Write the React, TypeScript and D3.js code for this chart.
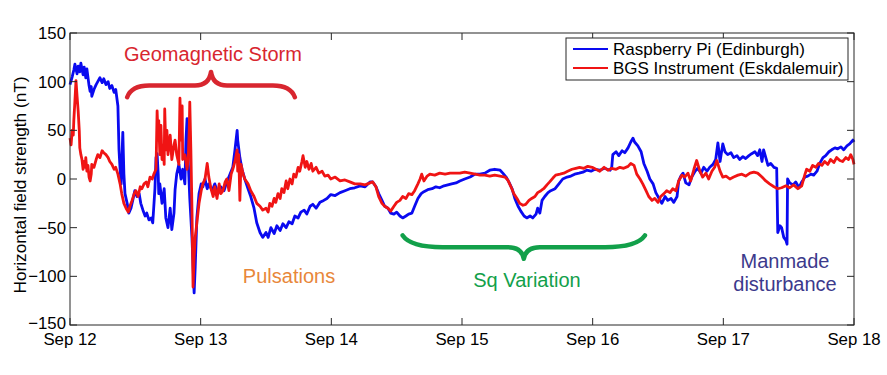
import React from 'react';
import * as d3 from 'd3';

// ---------- DATA ----------
const startUtc = Date.UTC(2014, 8, 12);
const endUtc = Date.UTC(2014, 8, 18);
const yTickValues = [-150, -100, -50, 0, 50, 100, 150];

// Raspberry Pi (Edinburgh): hours since Sep 12 00:00 and horizontal field (nT)
const blueHours = [
  0, 0.4, 0.7, 0.9, 1.3, 1.5, 1.8, 2.0, 2.4, 2.6,
  2.9, 3.1, 3.5, 3.7, 3.9, 4.0, 4.4, 4.8, 5.1, 5.5,
  5.9, 6.2, 6.6, 7.0, 7.3, 7.7, 8.1, 8.4, 8.8, 9.0,
  9.2, 9.4, 9.5, 9.7, 9.9, 10.1, 10.5, 10.8, 11.2, 11.6,
  11.9, 12.3, 12.7, 13.0, 13.4, 13.8, 14.1, 14.5, 14.9, 15.2,
  15.6, 15.8, 16.0, 16.2, 16.3, 16.5, 16.9, 17.3, 17.6, 18.0,
  18.4, 18.7, 19.1, 19.3, 19.6, 20.0, 20.4, 20.7, 21.1, 21.3,
  21.5, 21.7, 22.0, 22.4, 22.8, 23.0, 23.3, 23.7, 24.1, 24.4,
  24.8, 25.2, 25.5, 26.1, 26.6, 27.2, 27.7, 28.3, 28.8, 29.4,
  29.9, 30.3, 30.7, 30.8, 31.2, 31.6, 32.1, 32.7, 33.2, 33.8,
  34.3, 34.9, 35.4, 36.0, 36.4, 36.9, 37.5, 38.0, 38.6, 39.1,
  39.7, 40.2, 40.8, 41.3, 41.9, 42.4, 43.0, 43.5, 44.1, 44.6,
  45.2, 45.9, 46.6, 47.2, 47.9, 48.7, 49.6, 50.5, 51.4, 52.3,
  53.3, 54.2, 55.1, 55.6, 56.2, 56.7, 57.3, 57.8, 58.4, 58.9,
  59.5, 60.0, 60.6, 61.1, 61.7, 62.2, 62.8, 63.3, 63.9, 64.5,
  65.0, 65.7, 66.5, 67.2, 67.9, 68.7, 69.4, 70.1, 70.9, 71.6,
  72.5, 73.5, 74.4, 75.3, 76.2, 77.1, 78.0, 79.0, 79.5, 80.1,
  80.6, 81.2, 81.7, 82.3, 82.8, 83.4, 83.9, 84.5, 85.0, 85.6,
  85.9, 86.3, 86.7, 87.2, 87.8, 88.3, 89.1, 89.8, 90.5, 91.3,
  92.0, 92.7, 93.5, 94.2, 94.9, 95.7, 96.4, 97.3, 98.2, 99.2,
  99.5, 99.7, 100.3, 100.8, 101.4, 101.9, 102.5, 103.0, 103.4, 103.7,
  104.3, 104.9, 105.4, 106.0, 106.5, 107.1, 107.6, 108.2, 108.7, 109.3,
  109.8, 110.4, 110.9, 111.5, 111.8, 112.2, 112.6, 113.1, 113.7, 114.2,
  114.8, 115.3, 115.9, 116.4, 117.0, 117.5, 118.1, 118.6, 119.0, 119.4,
  119.9, 120.3, 120.8, 121.4, 121.9, 122.5, 123.0, 123.6, 124.1, 124.7,
  125.2, 125.8, 126.3, 126.7, 127.1, 127.4, 127.8, 128.2, 128.7, 129.3,
  129.8, 130.0, 130.4, 130.7, 131.1, 131.5, 131.7, 131.8, 132.2, 132.8,
  133.3, 133.9, 134.4, 135.0, 135.5, 136.1, 136.6, 137.2, 137.7, 138.3,
  138.8, 139.4, 139.9, 140.5, 141.0, 141.6, 142.1, 142.7, 143.2, 143.8,
  144.0,
];
const blueNT = [
  97, 105, 112, 118, 108, 116, 110, 119, 107, 115,
  104, 113, 96, 90, 95, 85, 92, 97, 100, 104,
  99, 103, 97, 100, 93, 96, 89, 92, 75, 30,
  10, -5, 15, 48, 5, -15, -25, -35, -30, -20,
  -12, -18, -15, -25, -32, -38, -35, -42, -40, -45,
  -10, 22, 26, 5, -15, -5, -25, -10, -40, -50,
  -30, -52, -35, -11, 5, 15, 0, 10, -5, 40,
  62, 20, -20, -60, -117, -90, -40, -15, -5, -8,
  0, -10, -5, -12, -5, -15, -8, -12, -3, 5,
  12, 30, 50, 40, 22, 10, 0, -10, -18, -30,
  -45, -55, -60, -55, -60, -50, -56, -48, -53, -46,
  -50, -44, -46, -38, -40, -34, -32, -36, -28, -26,
  -30, -24, -22, -20, -16, -17, -14, -12, -10, -9,
  -7, -8, -3, -3, -8, -15, -22, -28, -30, -35,
  -36, -34, -38, -40, -38, -36, -35, -28, -20, -15,
  -13, -11, -10, -8, -9, -7, -6, -5, -4, -2,
  0, 2, 5, 5, 6, 9, 10, 9, 6, 2,
  -3, -10, -20, -28, -33, -38, -40, -38, -40, -36,
  -30, -35, -22, -18, -14, -12, -10, -5, 0, 2,
  3, 5, 6, 7, 9, 8, 10, 9, 11, 9,
  12, 25, 28, 24, 29, 27, 32, 38, 42, 38,
  34, 28, 16, 8, 0, -5, -14, -20, -25, -18,
  -22, -20, -24, -18, -2, 3, 6, -4, -6, 2,
  8, 11, 6, 12, 8, 12, 15, 20, 37, 18,
  36, 28, 25, 27, 22, 24, 20, 23, 21, 24,
  26, 28, 24, 30, 18, 30, 22, 14, 16, 12,
  11, -55, -48, -50, -60, -63, -67, 0, -4, -6,
  -3, -9, -3, 2, 3, 5, 4, 8, 16, 22,
  24, 28, 30, 32, 31, 33, 30, 34, 36, 40,
  38,
];

// BGS Instrument (Eskdalemuir)
const redHours = [
  0, 0.2, 0.4, 0.6, 0.7, 0.9, 1.1, 1.3, 1.5, 1.7,
  1.8, 2.0, 2.2, 2.4, 2.6, 2.8, 2.9, 3.1, 3.3, 3.5,
  3.7, 3.9, 4.0, 4.4, 4.8, 5.1, 5.5, 5.9, 6.2, 6.6,
  7.0, 7.3, 7.7, 8.1, 8.4, 8.8, 9.2, 9.5, 9.9, 10.3,
  10.7, 11.0, 11.4, 11.8, 12.1, 12.5, 12.9, 13.2, 13.6, 14.0,
  14.3, 14.7, 15.1, 15.4, 15.8, 16.0, 16.2, 16.3, 16.5, 16.7,
  16.9, 17.1, 17.3, 17.4, 17.6, 17.8, 18.0, 18.4, 18.7, 19.1,
  19.3, 19.6, 20.0, 20.2, 20.4, 20.6, 20.7, 21.1, 21.5, 21.7,
  21.9, 22.0, 22.2, 22.4, 22.6, 22.8, 23.0, 23.3, 23.7, 24.1,
  24.4, 24.8, 25.2, 25.5, 25.9, 26.3, 26.6, 27.0, 27.4, 27.7,
  28.1, 28.5, 28.8, 29.2, 29.6, 29.9, 30.3, 30.7, 30.8, 31.0,
  31.2, 31.4, 31.8, 32.1, 32.7, 33.2, 33.8, 34.3, 34.9, 35.4,
  36.0, 36.4, 36.7, 37.1, 37.5, 37.8, 38.2, 38.6, 38.9, 39.3,
  39.7, 40.0, 40.4, 40.8, 41.1, 41.5, 41.9, 42.2, 42.6, 42.8,
  43.2, 43.5, 43.9, 44.3, 44.6, 45.2, 45.7, 46.3, 46.8, 47.4,
  47.9, 48.7, 49.6, 50.5, 51.4, 52.3, 53.3, 54.2, 55.1, 55.6,
  56.2, 56.7, 57.3, 57.8, 58.4, 58.9, 59.5, 60.0, 60.6, 61.1,
  61.7, 62.2, 62.8, 63.3, 63.9, 64.3, 64.6, 65.0, 65.6, 66.1,
  67.0, 67.9, 68.9, 69.8, 70.7, 71.6, 72.5, 73.5, 74.4, 75.3,
  76.2, 77.1, 78.0, 79.0, 79.9, 80.4, 81.0, 81.5, 82.1, 82.6,
  83.2, 83.7, 84.3, 84.8, 85.4, 85.9, 86.5, 87.0, 87.6, 88.1,
  88.7, 89.2, 90.0, 90.7, 91.4, 92.2, 92.9, 93.6, 94.4, 95.1,
  95.9, 96.6, 97.3, 98.1, 98.8, 99.5, 100.3, 101.0, 101.7, 102.5,
  103.0, 103.6, 104.1, 104.7, 105.2, 105.8, 106.3, 106.9, 107.4, 108.0,
  108.5, 109.1, 109.6, 110.2, 110.7, 111.3, 111.8, 112.4, 112.9, 113.5,
  114.0, 114.6, 115.1, 115.7, 116.2, 116.8, 117.3, 117.9, 118.4, 118.8,
  119.4, 119.9, 120.5, 121.2, 121.9, 122.7, 123.4, 124.1, 124.9, 125.6,
  126.3, 127.1, 127.8, 128.5, 129.3, 130.0, 130.7, 131.5, 132.2, 132.9,
  133.7, 134.4, 135.0, 135.3, 135.9, 136.4, 137.0, 137.5, 138.1, 138.6,
  139.2, 139.7, 140.3, 140.8, 141.4, 141.9, 142.5, 143.0, 143.4, 143.8,
  144.0,
];
const redNT = [
  42, 35, 50, 45, 60, 80, 101, 85, 70, 50,
  32, 25, 20, 10, 18, 12, 22, 8, 14, 2,
  -2, 5, 15, 12, 20, 25, 22, 29, 27, 25,
  22, 18, 15, 10, 12, 5, -5, -15, -25, -30,
  -34, -28, -22, -15, -12, -18, -8, -10, -5, -3,
  -8, 2, 0, 5, 10, 70, 40, 60, 25, 55,
  20, 35, 15, 72, 30, 50, 25, 45, 20, 35,
  40, 25, 15, 83, 40, 75, 20, 25, 10, 20,
  50, 79, 30, -30, -111, -80, -60, -45, -25, -12,
  -5, 0, 16, 2, -10, -18, -8, -20, -5, -15,
  -12, -3, 0, -12, 5, 10, 18, 30, 8, 25,
  -22, 15, 5, 0, -5, -12, -18, -25, -28, -32,
  -30, -34, -25, -28, -20, -24, -15, -20, -10, -14,
  -2, -10, 0, -5, 5, 2, 12, 8, 18, 24,
  12, 18, 10, 16, 8, 12, 6, 8, 3, 4,
  0, 2, -2, -1, -3, -5, -5, -6, -4, -3,
  -8, -18, -25, -28, -30, -33, -28, -24, -22, -18,
  -20, -15, -16, -12, -5, 0, 5, -2, 3, 5,
  4, 6, 5, 6, 6, 6, 7, 6, 5, 4,
  4, 3, 4, 3, 2, -1, -8, -15, -20, -25,
  -27, -26, -22, -20, -18, -14, -12, -10, -6, -3,
  1, 4, 5, 6, 8, 10, 11, 12, 11, 13,
  12, 10, 8, 12, 9, 11, 10, 12, 11, 13,
  16, 14, 5, 0, -5, -12, -18, -22, -20, -24,
  -18, -15, -12, -14, -10, -12, -2, 4, 2, 6,
  -2, 10, 19, 8, 2, 6, 0, 8, 12, 19,
  8, 2, 3, 0, 2, 4, 5, 3, 6, 7,
  6, 2, -2, -5, -8, -10, -9, -7, -9, -6,
  -10, -7, 5, 10, 8, 14, 12, 16, 14, 18,
  15, 20, 17, 22, 19, 18, 22, 20, 25, 20,
  15,
];

const seriesNames = ['Raspberry Pi (Edinburgh)', 'BGS Instrument (Eskdalemuir)'];
const seriesColors = ['#0a0af0', '#f01414'];

// ---------- COMPONENT ----------
const FONT = '"Liberation Sans", Arial, Helvetica, sans-serif';
const hourDate = (h: number) => new Date(startUtc + h * 3600 * 1000);

function bracePath(x1: number, x2: number, yEnd: number, yBody: number, yTip: number, rEnd: number, rTip: number) {
  const xm = (x1 + x2) / 2;
  return `M${x1},${yEnd} Q${x1 + rEnd * 0.2},${yBody} ${x1 + rEnd},${yBody} L${xm - rTip},${yBody} Q${xm - 2},${yBody} ${xm},${yTip} Q${xm + 2},${yBody} ${xm + rTip},${yBody} L${x2 - rEnd},${yBody} Q${x2 - rEnd * 0.2},${yBody} ${x2},${yEnd}`;
}

export default function App() {
  const W = 887;
  const H = 375;
  const left = 70, right = 854, top = 33, bottom = 325;

  const x = d3.scaleUtc().domain([new Date(startUtc), new Date(endUtc)]).range([left, right]);
  const y = d3.scaleLinear().domain([-150, 150]).range([bottom, top]);
  const xTicks = x.ticks(d3.utcDay.every(1) as any);
  const fmtX = d3.utcFormat('%b %d');
  const fmtY = d3.format('d');

  const blue = blueHours.map((h, i) => ({ t: hourDate(h), v: blueNT[i] }));
  const red = redHours.map((h, i) => ({ t: hourDate(h), v: redNT[i] }));
  const line = d3.line<{ t: Date; v: number }>().x(d => x(d.t)).y(d => y(d.v));

  const tick = 7;
  const axisColor = '#262626';

  const redBrace = bracePath(x(hourDate(10.5)), x(hourDate(41.3)), y(84), y(96), y(110), 22, 16);
  const greenBrace = bracePath(x(hourDate(61.1)), x(hourDate(105.6)), y(-58), y(-70), y(-82), 40, 16);

  return (
    <svg width={W} height={H} style={{ position: 'absolute', left: 0, top: 0, background: '#fff' }} fontFamily={FONT}>
      <rect x={0} y={0} width={W} height={H} fill="#fff" />
      {/* data */}
      <path d={line(blue) || ''} fill="none" stroke={seriesColors[0]} strokeWidth={2.8} strokeLinejoin="round" />
      <path d={line(red) || ''} fill="none" stroke={seriesColors[1]} strokeWidth={2.8} strokeLinejoin="round" />

      {/* frame */}
      <rect x={left} y={top} width={right - left} height={bottom - top} fill="none" stroke={axisColor} strokeWidth={1} />
      {xTicks.map((d, i) => (
        <g key={'xt' + i}>
          <line x1={x(d)} x2={x(d)} y1={bottom} y2={bottom - tick} stroke={axisColor} />
          <line x1={x(d)} x2={x(d)} y1={top} y2={top + tick} stroke={axisColor} />
          <text x={x(d)} y={345} textAnchor="middle" fontSize={16.8} fill="#000">{fmtX(d)}</text>
        </g>
      ))}
      {yTickValues.map((v, i) => (
        <g key={'yt' + i}>
          <line x1={left} x2={left + tick} y1={y(v)} y2={y(v)} stroke={axisColor} />
          <line x1={right} x2={right - tick} y1={y(v)} y2={y(v)} stroke={axisColor} />
          <text x={66} y={y(v) - (v === -150 ? 2 : 0)} dy="0.35em" textAnchor="end" fontSize={16.8} fill="#000">{fmtY(v)}</text>
        </g>
      ))}
      <text transform={`translate(20,${(top + bottom) / 2 + 6}) rotate(-90)`} textAnchor="middle" dy="0.35em" fontSize={17.2} fill="#000">
        Horizontal field strength (nT)
      </text>

      {/* legend */}
      <rect x={566} y={38} width={282} height={42} fill="#fff" stroke={axisColor} strokeWidth={1} />
      {seriesNames.map((n, i) => (
        <g key={'lg' + i}>
          <line x1={573} x2={608} y1={49 + i * 19} y2={49 + i * 19} stroke={seriesColors[i]} strokeWidth={2.2} />
          <text x={613} y={49 + i * 19} dy="0.35em" fontSize={17} fill="#000">{n}</text>
        </g>
      ))}

      {/* annotations */}
      <path d={redBrace} fill="none" stroke="#d8262f" strokeWidth={4.5} strokeLinecap="round" strokeLinejoin="round" />
      <text x={213} y={61} textAnchor="middle" fontSize={20} fill="#d8262f">Geomagnetic Storm</text>
      <text x={289} y={283} textAnchor="middle" fontSize={20} fill="#e8873a">Pulsations</text>
      <path d={greenBrace} fill="none" stroke="#12a04a" strokeWidth={4.5} strokeLinecap="round" strokeLinejoin="round" />
      <text x={527} y={287} textAnchor="middle" fontSize={20} fill="#12a04a">Sq Variation</text>
      <text x={785} y={268} textAnchor="middle" fontSize={20} fill="#3c3a8c">Manmade</text>
      <text x={785} y={291} textAnchor="middle" fontSize={20} fill="#3c3a8c">disturbance</text>
    </svg>
  );
}
